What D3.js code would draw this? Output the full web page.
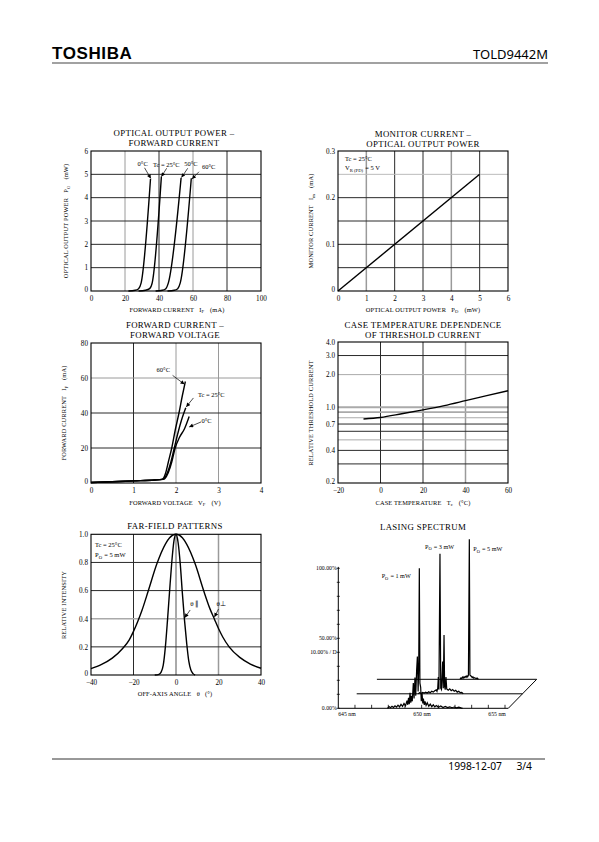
<!DOCTYPE html>
<html><head><meta charset="utf-8">
<script src="https://cdnjs.cloudflare.com/ajax/libs/d3/7.8.5/d3.min.js"></script>
<style>
body{margin:0;background:#fff}
svg{display:block}
text{white-space:pre}
</style>
</head><body>
<svg id="c" width="599" height="842"></svg>
<script>
// ---------------- DATA ----------------
// Chart 1: optical output power (mW) vs forward current (mA)
const ipTicksX = [0, 20, 40, 60, 80, 100];
const ipTicksY = [0, 1, 2, 3, 4, 5, 6];
const ip_T0  = [[22,0],[26,0.03],[28,0.1],[29.5,0.35],[35,4.8]];
const ip_T25 = [[28,0],[32,0.03],[34.5,0.1],[36,0.35],[41.4,4.9]];
const ip_T50 = [[38,0],[42,0.03],[44,0.1],[45.5,0.35],[53,4.85]];
const ip_T60 = [[45,0],[49,0.03],[51,0.1],[52.5,0.35],[59,4.83]];

// Chart 2: monitor current (mA) vs optical output power (mW)
const imTicksX = [0, 1, 2, 3, 4, 5, 6];
const imTicksY = [0, 0.1, 0.2, 0.3];
const imPower   = [0, 5];
const imCurrent = [0, 0.25];

// Chart 3: forward current (mA) vs forward voltage (V)
const vfTicksX = [0, 1, 2, 3, 4];
const vfTicksY = [0, 20, 40, 60, 80];
const vf_T60 = [[0,0.3],[0.5,0.7],[1.0,1.2],[1.5,1.7],[1.66,2.1],[1.70,2.6],[1.76,6],[1.82,12],[1.9,20],[1.98,30],[2.07,40],[2.15,50],[2.22,58]];
const vf_T25 = [[0,0.3],[0.5,0.7],[1.0,1.2],[1.5,1.7],[1.68,2.1],[1.72,2.6],[1.8,6],[1.88,12],[1.96,20],[2.05,29],[2.13,36],[2.2,41],[2.23,43]];
const vf_T0  = [[0,0.3],[0.5,0.7],[1.0,1.2],[1.5,1.7],[1.70,2.1],[1.74,2.6],[1.82,6],[1.9,12],[1.98,20],[2.08,26],[2.2,31],[2.31,38]];

// Chart 4: relative threshold current vs case temperature
const thTicksX = [-20, 0, 20, 40, 60];
const thTicksY = [0.2, 0.4, 0.7, 1.0, 2.0, 3.0, 4.0];
const thGridY  = [0.3, 0.4, 0.5, 0.6, 0.7, 0.8, 0.9, 1.0, 2.0, 3.0];
const caseTemp     = [-8, 0, 10, 20, 30, 40, 50, 60];
const relThreshold = [0.78, 0.805, 0.87, 0.945, 1.035, 1.15, 1.28, 1.42];

// Chart 5: far-field patterns
const ffTicksX = [-40, -20, 0, 20, 40];
const ffTicksY = [0, 0.2, 0.4, 0.6, 0.8, 1.0];
const ffPerpAngle = [-40,-35,-30,-25,-22,-20,-18,-16,-13,-9,-5,-3,0,3,5,9,13,16,18,20,22,25,30,35,40];
const ffPerpValue = [0.045,0.075,0.12,0.19,0.25,0.31,0.38,0.46,0.6,0.79,0.93,0.975,1.0,0.975,0.93,0.79,0.6,0.47,0.4,0.33,0.27,0.2,0.125,0.078,0.048];
const ffParAngle  = [-10,-8,-7,-6,-5,-4,-3,-2,-1,0,1,2,3,4,5,6,7,8,9];
const ffParValue  = [0,0.005,0.02,0.07,0.2,0.39,0.6,0.8,0.95,1,0.94,0.79,0.58,0.39,0.23,0.1,0.035,0.01,0];

// Chart 6: lasing spectrum (wavelength nm, % of full scale)
const specLabelsX = [645, 650, 655];
const specLabelsY = [["100.00%",100],["50.00%",50],["10.00% / D",40],["0.00%",0]];
const specPower = ["1 mW", "3 mW", "5 mW"];
const specBaseStart = [644.42, 644.7, 645.1];
const spec1 = [[647.7,0],[647.8,1.2],[647.9,0.4],[648.0,1.5],[648.1,0.6],[648.2,1.8],[648.3,0.8],[648.4,2.2],[648.5,1.0],[648.6,2.8],[648.7,1.4],[648.8,3.5],[648.9,1.8],[649.0,5.5],[649.05,2.5],[649.1,7.5],[649.15,3],[649.2,11],[649.25,4],[649.3,9],[649.35,5],[649.42,18],[649.47,7],[649.53,22],[649.58,9],[649.64,27],[649.69,37],[649.74,12],[649.78,29],[649.82,100],[649.86,18],[649.91,15],[649.95,5],[650.0,11],[650.05,3.5],[650.09,7],[650.15,2.5],[650.2,5],[650.27,2],[650.35,4],[650.45,1.5],[650.55,3],[650.65,1.2],[650.75,2.5],[650.85,1],[650.95,2],[651.1,0.8],[651.25,1.6],[651.4,0.6],[651.55,1.3],[651.7,0.5],[651.85,1],[652.0,0.4],[652.15,0.9],[652.3,0.3],[652.45,0.8],[652.6,0.3],[652.7,0]];
const spec3 = [[648.8,0],[648.9,0.8],[649.0,0.3],[649.1,1],[649.2,0.5],[649.3,1.2],[649.4,0.6],[649.5,1.5],[649.6,0.8],[649.7,1.8],[649.8,1.2],[649.9,2.2],[650.0,2.8],[650.05,1.8],[650.1,4],[650.14,12],[650.18,3],[650.25,100],[650.3,4],[650.35,3],[650.43,23],[650.47,4],[650.52,42],[650.56,5],[650.6,3],[650.65,12],[650.7,3.5],[650.8,2.5],[650.9,3.5],[651.0,2.2],[651.1,3],[651.2,1.8],[651.3,2.5],[651.4,1.2],[651.5,1.8],[651.6,0.8],[651.7,1],[651.8,0]];
const spec5 = [[650.64,0],[650.7,1],[650.75,0.5],[650.8,1.5],[650.85,0.8],[650.9,1.8],[650.95,1.2],[651.0,2],[651.05,1.5],[651.1,2.5],[651.15,1.8],[651.2,3],[651.26,100],[651.3,3],[651.35,2.5],[651.4,2],[651.45,1.2],[651.5,1.8],[651.55,0.8],[651.6,1.2],[651.7,0.6],[651.8,0.8],[651.86,0]];

// ---------------- DRAWING ----------------
const SERIF = '"Liberation Serif","Times New Roman",serif';
const SANS = '"Liberation Sans",Arial,sans-serif';
const svg = d3.select("#c");
svg.append("rect").attr("width",599).attr("height",842).attr("fill","#fff");

const defs = svg.append("defs");
defs.append("marker").attr("id","ah").attr("viewBox","0 0 10 10")
  .attr("refX",10).attr("refY",5).attr("markerWidth",5).attr("markerHeight",4)
  .attr("markerUnits","userSpaceOnUse").attr("orient","auto")
  .append("path").attr("d","M0,0L10,5L0,10z").attr("fill","#000");

function rich(sel, parts, size) {
  parts.forEach(p => {
    if (p[1] === "sub") {
      sel.append("tspan").attr("font-size", size*0.72).attr("dy", size*0.25).text(p[0]);
      sel.append("tspan").attr("dy", -size*0.25).text("\u200A");
    } else {
      sel.append("tspan").text(p[0]);
    }
  });
  return sel;
}

function txt(x, y, parts, opts={}) {
  const size = opts.size || 6.5;
  const t = svg.append("text").attr("x", x).attr("y", y)
    .attr("font-family", opts.family || SERIF).attr("font-size", size)
    .attr("text-anchor", opts.anchor || "start").attr("fill","#000")
    .attr("font-weight", opts.weight || "normal");
  if (opts.ls) t.attr("letter-spacing", opts.ls);
  if (opts.rotate) t.attr("transform", `rotate(-90,${x},${y})`);
  if (typeof parts === "string") t.text(parts); else rich(t, parts, size);
  return t;
}

function panel(o) {
  const g = svg.append("g");
  const x = o.x, y = o.y;
  const [x0, x1] = x.range(), [y0, y1] = y.range();
  o.gridX.forEach((v,i) => g.append("line").attr("x1",x(v)).attr("x2",x(v)).attr("y1",y0).attr("y2",y1)
    .attr("stroke", o.toneX[i]).attr("stroke-width", o.wX ? o.wX[i] : 1));
  o.gridY.forEach((v,i) => g.append("line").attr("y1",y(v)).attr("y2",y(v)).attr("x1",x0).attr("x2",x1)
    .attr("stroke", o.toneY[i]).attr("stroke-width", o.wY ? o.wY[i] : 1));
  g.append("rect").attr("x",x0).attr("y",y1).attr("width",x1-x0).attr("height",y0-y1)
    .attr("fill","none").attr("stroke","#000").attr("stroke-width",1.1);
  const ax = g.append("g").attr("transform",`translate(0,${y0})`)
    .call(d3.axisBottom(x).tickValues(o.ticksX).tickSize(0).tickPadding(4.5).tickFormat(o.fmtX || (d=>d<0?"\u2212"+(-d):d)));
  const ay = g.append("g").attr("transform",`translate(${x0},0)`)
    .call(d3.axisLeft(y).tickValues(o.ticksY).tickSize(0).tickPadding(3).tickFormat(o.fmtY || (d=>d)));
  [ax, ay].forEach(a => {
    a.select(".domain").remove();
    a.selectAll("text").attr("font-family", SERIF).attr("font-size", 7.2).attr("fill","#000");
  });
  // lift the lowest y label slightly so it clears the first x label
  ay.selectAll(".tick").filter((d,i) => i === 0).select("text").attr("dy", "0.05em");
  return g;
}

function curve(g, pts, x, y, c) {
  g.append("path").datum(pts)
    .attr("d", d3.line().x(d=>x(d[0])).y(d=>y(d[1])).curve(c || d3.curveMonotoneX))
    .attr("fill","none").attr("stroke","#000").attr("stroke-width",1.4).attr("stroke-linejoin","round");
}
function arrow(g, x, y, a, b) {
  g.append("line").attr("x1",x(a[0])).attr("y1",y(a[1])).attr("x2",x(b[0])).attr("y2",y(b[1]))
    .attr("stroke","#000").attr("stroke-width",0.7).attr("marker-end","url(#ah)");
}
function title(cx, y, lines) {
  lines.forEach((l,i) => txt(cx, y + i*10, l, {size: 8.8, anchor:"middle", ls: 0.35}));
}
const AX = {size: 6.4, anchor: "middle", ls: 0.15};

const G = "#9a9a9a", K = "#2a2a2a";

// ---- Header / footer
txt(52, 59, "TOSHIBA", {family: SANS, size: 17, weight: "bold", ls: 0.6});
txt(548, 59, "TOLD9442M", {family: '"Noto Sans","Liberation Sans",sans-serif', size: 13, anchor: "end"});
svg.append("line").attr("x1",52).attr("x2",548).attr("y1",63).attr("y2",63).attr("stroke","#444").attr("stroke-width",1.2);
svg.append("line").attr("x1",52).attr("x2",545).attr("y1",759).attr("y2",759).attr("stroke","#333").attr("stroke-width",1);
txt(502, 770, "1998-12-07", {family: '"Noto Sans","Liberation Sans",sans-serif', size: 10.3, anchor: "end"});
txt(532, 770, "3/4", {family: '"Noto Sans","Liberation Sans",sans-serif', size: 10.3, anchor: "end"});

// ---- Chart 1
{
  const x = d3.scaleLinear().domain([0,100]).range([91,261]);
  const y = d3.scaleLinear().domain([0,6]).range([291,151]);
  const g = panel({x, y, gridX:[20,40,60,80], toneX:[G,K,G,K], gridY:[1,2,3,4,5], toneY:[K,K,K,K,K],
    ticksX: ipTicksX, ticksY: ipTicksY});
  [ip_T0, ip_T25, ip_T50, ip_T60].forEach(s => curve(g, s, x, y));
  title(174, 136, ["OPTICAL OUTPUT POWER \u2013", "FORWARD CURRENT"]);
  txt(177, 311.5, [["FORWARD CURRENT   I"],["F","sub"],["   (mA)"]], AX);
  txt(68, 221, [["OPTICAL OUTPUT POWER   P"],["O","sub"],["   (mW)"]], {...AX, rotate: true});
  const lab = [["0°C",30.4,5.44],["Tc = 25°C",44.3,5.43],["50°C",58.8,5.47],["60°C",69.2,5.33]];
  lab.forEach(l => txt(x(l[1]), y(l[2])+2.2, l[0], {size: 6.5, anchor: "middle"}));
  arrow(g, x, y, [31.5,5.28],[35.2,4.82]);
  arrow(g, x, y, [44.5,5.26],[41.4,4.9]);
  arrow(g, x, y, [56.9,5.26],[53.2,4.86]);
  arrow(g, x, y, [63.5,5.11],[59.4,4.8]);
}
// ---- Chart 2
{
  const x = d3.scaleLinear().domain([0,6]).range([338,508]);
  const y = d3.scaleLinear().domain([0,0.3]).range([291,151]);
  const g = panel({x, y, gridX:[1,2,3,4,5], toneX:[G,K,K,G,K], wX:[1.5,1,1,1.5,1],
    gridY:[0.05,0.1,0.15,0.2,0.25], toneY:[K,K,K,K,"#bbb"], ticksX: imTicksX, ticksY: imTicksY});
  curve(g, d3.zip(imPower, imCurrent), x, y, d3.curveLinear);
  title(423, 137, ["MONITOR CURRENT \u2013", "OPTICAL OUTPUT POWER"]);
  txt(423, 311.5, [["OPTICAL OUTPUT POWER   P"],["O","sub"],["   (mW)"]], AX);
  txt(313, 221, [["MONITOR CURRENT   I"],["m","sub"],["   (mA)"]], {...AX, rotate: true});
  txt(x(0.25), y(0.283)+2.2, "Tc = 25°C", {size: 6.5});
  txt(x(0.25), y(0.264)+2.2, [["V"],["R (PD)","sub"],[" = 5 V"]], {size: 6.5});
}
// ---- Chart 3
{
  const x = d3.scaleLinear().domain([0,4]).range([91,261]);
  const y = d3.scaleLinear().domain([0,80]).range([483,343]);
  const g = panel({x, y, gridX:[1,2,3], toneX:[K,G,G], gridY:[20,40,60], toneY:[K,K,G],
    ticksX: vfTicksX, ticksY: vfTicksY});
  [vf_T60, vf_T25, vf_T0].forEach(s => curve(g, s, x, y));
  title(175, 327.5, ["FORWARD CURRENT \u2013", "FORWARD VOLTAGE"]);
  txt(175, 504.5, [["FORWARD VOLTAGE   V"],["F","sub"],["   (V)"]], AX);
  txt(66, 413, [["FORWARD CURRENT   I"],["F","sub"],["   (mA)"]], {...AX, rotate: true});
  txt(x(1.70), y(64.7)+2.2, "60°C", {size: 6.5, anchor: "middle"});
  txt(x(2.83), y(50.5)+2.2, "Tc = 25°C", {size: 6.5, anchor: "middle"});
  txt(x(2.72), y(35.8)+2.2, "0°C", {size: 6.5, anchor: "middle"});
  arrow(g, x, y, [1.92,61.5],[2.2,56.4]);
  arrow(g, x, y, [2.41,48.6],[2.24,43.5]);
  arrow(g, x, y, [2.59,34.9],[2.31,32]);
}
// ---- Chart 4
{
  const x = d3.scaleLinear().domain([-20,60]).range([338,508]);
  const y = d3.scaleLog().domain([0.2,4.0]).range([483,342]);
  const toneY = thGridY.map(v => ({0.3:K,0.4:K,0.5:"#aaa",0.6:K,0.7:K,0.8:"#aaa",0.9:"#aaa",1:"#aaa",2:"#aaa",3:K})[v]);
  const wY = thGridY.map(v => (v===0.9||v===1) ? 1.8 : 1);
  const g = panel({x, y, gridX:[0,20,40], toneX:[K,K,G], wX:[1,1,1.5], gridY: thGridY, toneY, wY,
    ticksX: thTicksX, ticksY: thTicksY, fmtY: d3.format(".1f")});
  curve(g, d3.zip(caseTemp, relThreshold), x, y);
  title(423, 327.5, ["CASE TEMPERATURE DEPENDENCE", "OF THRESHOLD CURRENT"]);
  txt(423, 504.5, [["CASE TEMPERATURE   T"],["c","sub"],["   (°C)"]], AX);
  txt(313, 413, "RELATIVE THRESHOLD CURRENT", {...AX, rotate: true});
}
// ---- Chart 5
{
  const x = d3.scaleLinear().domain([-40,40]).range([91,261]);
  const y = d3.scaleLinear().domain([0,1]).range([675,534.3]);
  const g = panel({x, y, gridX:[-20,0,20], toneX:[K,"#555",G], wX:[1,1,1.5], gridY:[0.2,0.4,0.6,0.8], toneY:[K,"#aaa",K,K],
    wY:[1,1.6,1,1], ticksX: ffTicksX, ticksY: ffTicksY, fmtY: d => d===0 ? "0" : d3.format(".1f")(d)});
  curve(g, d3.zip(ffPerpAngle, ffPerpValue), x, y);
  curve(g, d3.zip(ffParAngle, ffParValue), x, y);
  title(175, 529, ["FAR-FIELD PATTERNS"]);
  txt(175, 695.5, "OFF-AXIS ANGLE   \u03B8   (°)", AX);
  txt(66, 605, "RELATIVE INTENSITY", {...AX, rotate: true});
  txt(x(-38.1), y(0.924)+2.2, "Tc = 25°C", {size: 6.5});
  txt(x(-38.1), y(0.853)+2.2, [["P"],["O","sub"],[" = 5 mW"]], {size: 6.5});
  txt(x(8.9), y(0.51)+2.5, "\u03B8 \u2225", {size: 7, anchor: "middle"});
  txt(x(21.3), y(0.51)+2.5, "\u03B8\u22A5", {size: 7, anchor: "middle"});
  arrow(g, x, y, [6.67,0.462],[4.1,0.407]);
  arrow(g, x, y, [20.0,0.469],[18.1,0.412]);
}
// ---- Chart 6: lasing spectrum (pseudo-3D)
{
  const sx = d3.scaleLinear().domain([644.42,655.75]).range([338.3,508.3]);
  const sy = d3.scaleLinear().domain([0,100]).range([708.3,568.3]);
  const off = [[0,0],[14.2,-14.5],[28.4,-29]];
  const g = svg.append("g");
  title(423, 529.5, ["LASING SPECTRUM"]);
  g.append("line").attr("x1",sx(644.42)).attr("x2",sx(644.42)).attr("y1",sy(101)).attr("y2",sy(0))
    .attr("stroke","#000").attr("stroke-width",1);
  d3.range(0,101,10).forEach(p => g.append("line").attr("x1",sx(644.42)-1.5).attr("x2",sx(644.42)+1.5)
    .attr("y1",sy(p)).attr("y2",sy(p)).attr("stroke","#000").attr("stroke-width",0.8));
  const dv = d3.scaleLinear().domain([0,10]).range([sx(644.42), sx(644.42)+166.7]);
  d3.range(1,11).forEach(i => g.append("line").attr("x1",dv(i)).attr("x2",dv(i))
    .attr("y1",sy(0)).attr("y2",sy(0)-3.5).attr("stroke","#000").attr("stroke-width",0.8));
  specLabelsY.forEach(l => txt(sx(644.42)-1.5, sy(l[1])+2, l[0], {size: 5.8, anchor: "end"}));
  specLabelsX.forEach(v => txt(sx(v), sy(0)+7.5, v + " nm", {size: 5.8, anchor: "middle"}));
  specBaseStart.forEach((s,k) => g.append("line")
    .attr("x1", sx(s)+off[k][0]).attr("x2", sx(655.75)+off[k][0])
    .attr("y1", sy(0)+off[k][1]).attr("y2", sy(0)+off[k][1]).attr("stroke","#000").attr("stroke-width",1));
  g.append("line").attr("x1",sx(655.75)).attr("y1",sy(0)).attr("x2",sx(655.75)+off[2][0]).attr("y2",sy(0)+off[2][1])
    .attr("stroke","#000").attr("stroke-width",1);
  [spec5, spec3, spec1].forEach((s, j) => {
    const k = 2 - j;
    g.append("path").datum(s)
      .attr("d", d3.line().x(d => sx(d[0]) + off[k][0]).y(d => sy(d[1]) + off[k][1]))
      .attr("fill","none").attr("stroke","#000").attr("stroke-width",1.2).attr("stroke-linejoin","miter");
  });
  const lp = [[647.31,94.5],[650.2,115.5],[653.42,113.6]];
  lp.forEach((l,i) => txt(sx(l[0]), sy(l[1])+2, [["P"],["O","sub"],[" = " + specPower[i]]], {size: 6.2}));
}
</script>
</body></html>
